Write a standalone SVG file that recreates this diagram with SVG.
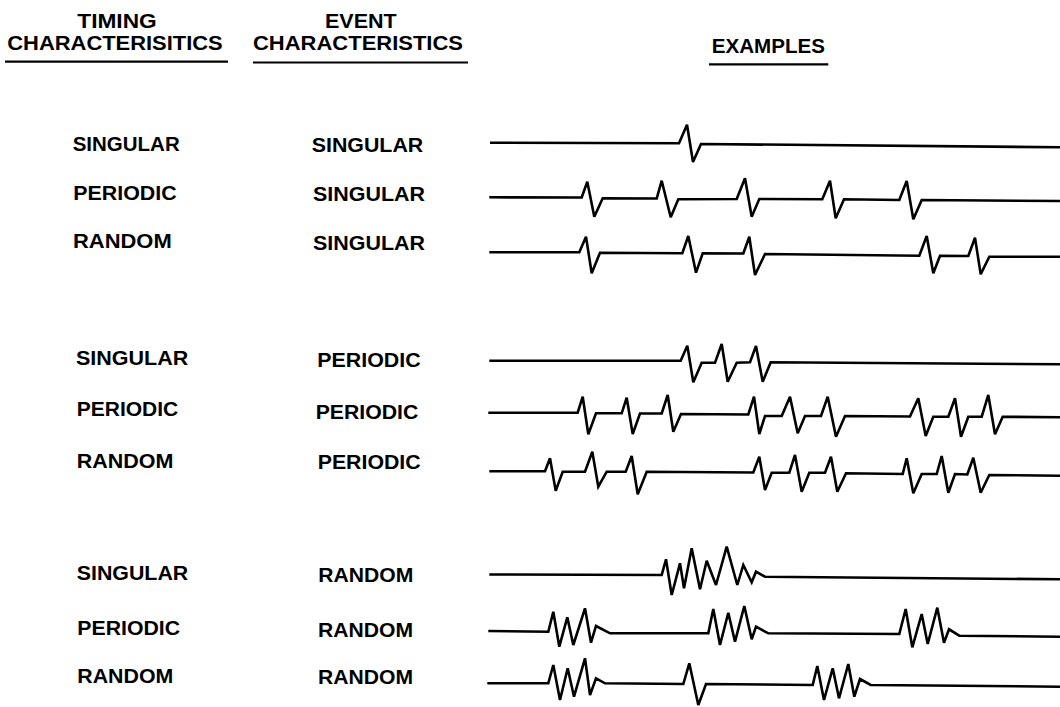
<svg xmlns="http://www.w3.org/2000/svg" width="1060" height="707" viewBox="0 0 1060 707">
<style>
text{font-family:"Liberation Sans",Arial,Helvetica,sans-serif;font-weight:bold;font-size:20px;fill:#000}
.ul{stroke:#000;stroke-width:2.2;fill:none}
.wave{stroke:#000;stroke-width:2.6;fill:none;stroke-linejoin:miter;stroke-miterlimit:3;stroke-linecap:butt}
</style>
<rect width="1060" height="707" fill="#fff"/>
<g id="headers">
<g id="hdr-timing">
<text x="77.3" y="28.3" textLength="79.4" lengthAdjust="spacingAndGlyphs">TIMING</text>
<text x="7.3" y="49.8" textLength="215.4" lengthAdjust="spacingAndGlyphs">CHARACTERISITICS</text>
<line class="ul" x1="5" y1="61.7" x2="228" y2="61.7"/>
</g>
<g id="hdr-event">
<text x="325" y="28.3" textLength="71.7" lengthAdjust="spacingAndGlyphs">EVENT</text>
<text x="253" y="49.8" textLength="210" lengthAdjust="spacingAndGlyphs">CHARACTERISTICS</text>
<line class="ul" x1="253" y1="62.5" x2="468" y2="62.5"/>
</g>
<g id="hdr-examples">
<text x="711.7" y="53.3" textLength="113.3" lengthAdjust="spacingAndGlyphs">EXAMPLES</text>
<line class="ul" x1="709" y1="64.3" x2="828.3" y2="64.3"/>
</g>
</g>
<g id="timing-labels">
<text id="t1" x="72.7" y="150.7" textLength="107" lengthAdjust="spacingAndGlyphs">SINGULAR</text>
<text id="t2" x="73.3" y="200" textLength="103.4" lengthAdjust="spacingAndGlyphs">PERIODIC</text>
<text id="t3" x="73" y="248.3" textLength="98.7" lengthAdjust="spacingAndGlyphs">RANDOM</text>
<text id="t4" x="76" y="365" textLength="112.3" lengthAdjust="spacingAndGlyphs">SINGULAR</text>
<text id="t5" x="76.7" y="416" textLength="101.6" lengthAdjust="spacingAndGlyphs">PERIODIC</text>
<text id="t6" x="76.7" y="468.3" textLength="96.6" lengthAdjust="spacingAndGlyphs">RANDOM</text>
<text id="t7" x="76.7" y="580" textLength="111.6" lengthAdjust="spacingAndGlyphs">SINGULAR</text>
<text id="t8" x="77.3" y="635" textLength="102.7" lengthAdjust="spacingAndGlyphs">PERIODIC</text>
<text id="t9" x="77.3" y="683.3" textLength="96" lengthAdjust="spacingAndGlyphs">RANDOM</text>
</g>
<g id="event-labels">
<text id="e1" x="311.7" y="151.7" textLength="111.6" lengthAdjust="spacingAndGlyphs">SINGULAR</text>
<text id="e2" x="313" y="201" textLength="112" lengthAdjust="spacingAndGlyphs">SINGULAR</text>
<text id="e3" x="313" y="250" textLength="112" lengthAdjust="spacingAndGlyphs">SINGULAR</text>
<text id="e4" x="317.3" y="366.7" textLength="103.4" lengthAdjust="spacingAndGlyphs">PERIODIC</text>
<text id="e5" x="315.7" y="419" textLength="102.6" lengthAdjust="spacingAndGlyphs">PERIODIC</text>
<text id="e6" x="317.7" y="469.3" textLength="103" lengthAdjust="spacingAndGlyphs">PERIODIC</text>
<text id="e7" x="318.3" y="581.7" textLength="95" lengthAdjust="spacingAndGlyphs">RANDOM</text>
<text id="e8" x="318" y="636.7" textLength="95" lengthAdjust="spacingAndGlyphs">RANDOM</text>
<text id="e9" x="318" y="684.3" textLength="95" lengthAdjust="spacingAndGlyphs">RANDOM</text>
</g>
<g id="waveforms">
<polyline id="w1" class="wave" points="490,142.7 679,143.3 687,124.7 693,162 701,144 1060,147.3"/>
<polyline id="w2" class="wave" points="489.3,197.3 581.7,197.5 587.3,181.7 594.3,216.7 602.7,198.3 656.7,198.5 661.7,180.7 670.7,217.3 678.3,199.3 736.7,199 745,178.3 751.7,216.7 759.3,199 822.3,199.3 830,180.7 835.7,218.3 844,199.3 899.3,200 906.7,181 913.3,219.3 921.7,200 1060,201"/>
<polyline id="w3" class="wave" points="489.3,252.3 579.3,252.3 586,236.7 591.7,273.3 600,252.7 682.3,253.3 688.3,236 696,272.7 702.7,253.3 743.3,253.5 749.3,236.7 755,275 765,254 919.3,255.7 926.7,236 933.3,273.3 940,255.7 968.3,256 975,237.7 980.7,274.3 989.3,256.7 1060,256.7"/>
<polyline id="w4" class="wave" points="489.3,360.7 680.7,360.7 687.3,345.7 693.3,382.3 701.7,362.7 715,362.7 721.7,344 727.7,381.7 736.7,362.7 750,362.3 756,346 762.7,381.7 770.7,362.3 1060,364.3"/>
<polyline id="w5" class="wave" points="488.3,412.7 577.7,412.7 582.7,396.7 588.3,434.3 596,413.3 621.7,413.3 626.7,397.7 632.7,434 640,413.5 661.7,413.5 667.7,395 673.3,431.7 681,414 748.3,414.5 754,396.7 759.3,434 765,416 781.7,416 790,396.7 797.7,433.3 805,416 821,416 827.7,396.7 836,436.7 845,416 910,416.5 918.3,398.3 925.7,436 933.3,416.7 948.3,416.7 955,398.3 961,436.7 968.3,416.7 981.7,416.7 988.3,395 995,434.3 1002.7,416.7 1060,417.3"/>
<polyline id="w6" class="wave" points="489.3,471.3 545,471.3 550,458.3 555.7,490.7 562.7,471.7 585,471.7 592.3,451.7 598.3,486.7 606.7,471.7 625.7,471.7 631.7,456 637.7,494.3 646.7,471.7 753.3,472.5 759.3,456.7 765,490 771.7,472.7 789.3,472.7 795,455 801.7,491.7 809.3,472.7 825,472.7 831,456.7 837.3,491.7 846,473.3 902.7,474 906.7,458.3 913.3,493.3 921.7,474 936.7,474 941.7,456 948.3,492.7 955,474 967.3,474.5 973.3,457.7 980.7,492.7 989.3,475 1060,475.7"/>
<polyline id="w7" class="wave" points="489.3,574.5 661.7,575 666,559.3 671.7,595 680,563.3 684,588.3 691.7,548.3 700,589.3 706.7,560.7 716,585 726.7,546.7 737.3,585 743.3,565 751.7,582.3 756,571.7 765,576.7 1060,579.3"/>
<polyline id="w8" class="wave" points="488.3,631 548.3,631.7 553.3,611.7 559.3,646.7 567.3,617.3 573.3,645 585,608.3 591,642.7 596,626 610,633.3 708.3,633.3 713.3,609 720,645 728.3,612.7 735,641.7 744.3,606 751.7,639.3 756,626.7 768.3,633.3 899.3,634 905.7,609 912.3,647.3 921.7,614 927.7,644 937.3,607.7 944,642.7 949,629.3 959.3,635.7 1060,636.7"/>
<polyline id="w9" class="wave" points="487.3,683.3 548.3,683.3 553.3,665 560,700 567.7,668.3 574,696.7 585,658.3 590,695 596,678.3 605,683.3 683.3,684 689.3,663.3 698.3,705 706,684 812.7,685 817.3,666 824,700 832.7,668.3 839,698.3 848.3,664 854.3,696.7 860,679 870.7,685 1060,686.7"/>
</g>
</svg>
